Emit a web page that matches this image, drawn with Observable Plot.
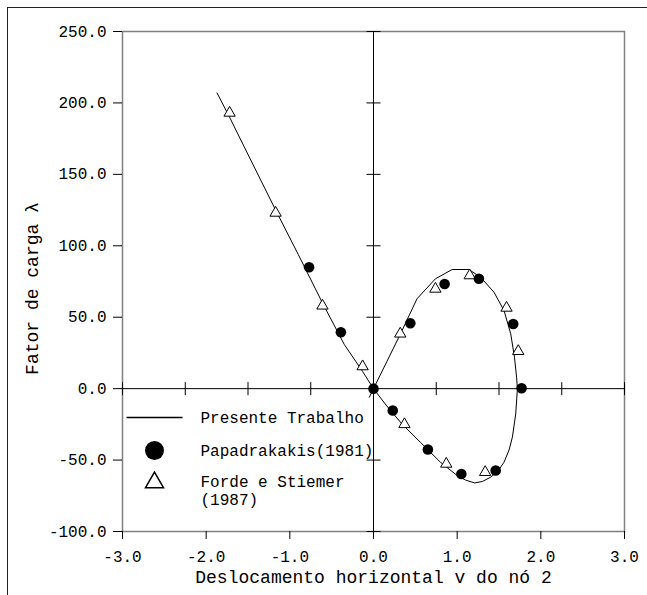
<!DOCTYPE html>
<html><head><meta charset="utf-8">
<script src="https://cdn.jsdelivr.net/npm/d3@7"></script>
<script src="https://cdn.jsdelivr.net/npm/@observablehq/plot@0.6"></script>
<style>
body{margin:0;background:#fff;}
#wrap{position:relative;width:647px;height:595px;overflow:hidden;}
#wrap svg{position:absolute;left:0;top:0;}
#border{position:absolute;left:7px;top:7px;right:-5px;bottom:-5px;border-left:1px solid #222;border-top:1.5px solid #222;pointer-events:none;}
</style></head><body><div id="wrap"><div id="border"></div></div>
<script>
// ---- data ----
const curveX = [-1.87,-1.72,-1.45,-1.17,-0.9,-0.61,-0.35,-0.13,0,0.15,0.34,0.56,0.8,1.0,1.1,1.21,1.3,1.4,1.49,1.56,1.62,1.66,1.7,1.72,1.71,1.685,1.64,1.56,1.44,1.28,1.14,0.94,0.74,0.52,0.323,0.16,0,-0.05];
const curveY = [207,190,158,125,94,60,31,12,0,-11.5,-24.7,-37.5,-51.5,-60.8,-64,-66,-65,-62,-57.5,-51.5,-43,-34,-17.7,0,8,22,38.4,54.7,67.5,78,83.4,83.4,76.9,62.9,38.4,19,0,-6];
const papX = [-0.77,-0.39,0,0.23,0.65,1.05,1.46,1.77,1.67,1.26,0.85,0.44];
const papY = [85,39.5,0,-15.3,-42.6,-59.7,-57.3,0.3,45.3,76.9,73.3,45.8];
const fsX = [-1.72,-1.17,-0.61,-0.13,0.37,0.87,1.335,1.73,1.59,1.15,0.74,0.32];
const fsY = [193,123,58,15.5,-25,-52.7,-58.5,26.2,56.5,79.2,69.8,38.4];
const xTicks = [-3,-2,-1,0,1,2,3];
const yTicks = [250,200,150,100,50,0,-50,-100];
const centerXTicks = [-3,-2.25,-1.5,-0.75,0,0.75,1.5,2.25,3];
const centerYTicks = [250,200,150,100,50,-50,-100];
const legendLabels = ["Presente Trabalho","Papadrakakis(1981)","Forde e Stiemer\n(1987)"];
const xLabel = "Deslocamento horizontal v do nó 2";
const yLabel = "Fator de carga λ";

const curve = curveX.map((x,i)=>({x, y:curveY[i]}));
const pap = papX.map((x,i)=>({x, y:papY[i]}));
const fs = fsX.map((x,i)=>({x, y:fsY[i]}));

const hline = {draw(ctx,size){const r=Math.sqrt(size/Math.PI);ctx.moveTo(-r,0);ctx.lineTo(r,0);}};
const vline = {draw(ctx,size){const r=Math.sqrt(size/Math.PI);ctx.moveTo(0,-r);ctx.lineTo(0,r);}};
const fmt = d=>d.toFixed(1);
const font = "'Liberation Mono','Courier New',monospace";

const chart = Plot.plot({
  width:647, height:595,
  marginLeft:122, marginRight:23, marginTop:31, marginBottom:64,
  x:{domain:[-3,3]}, y:{domain:[-100,250]},
  style:{fontFamily:font, fontSize:"16px", color:"#000", background:"transparent"},
  marks:[
    Plot.frame({stroke:"#808080", strokeWidth:1.5}),
    Plot.ruleX([0],{stroke:"#000", strokeWidth:1}),
    Plot.ruleY([0],{stroke:"#000", strokeWidth:1}),
    Plot.dot(centerYTicks,{x:()=>0, y:d=>d, symbol:hline, r:7, stroke:"#000", fill:"none", strokeWidth:1}),
    Plot.dot(centerXTicks,{x:d=>d, y:()=>0, symbol:vline, r:6.5, stroke:"#000", fill:"none", strokeWidth:1}),
    Plot.axisY({ticks:yTicks, tickSize:9, tickPadding:7, tickFormat:fmt, fontSize:16, label:null, stroke:"#000"}),
    Plot.axisX({ticks:xTicks, tickSize:8, tickPadding:11, tickFormat:fmt, fontSize:16, label:null, stroke:"#000"}),
    Plot.line(curve,{x:"x", y:"y", stroke:"#000", strokeWidth:1}),
    Plot.dot(fs,{x:"x", y:"y", symbol:"triangle", r:4.2, stroke:"#000", fill:"#fff", strokeWidth:1}),
    Plot.dot(pap,{x:"x", y:"y", r:5.3, fill:"#000", stroke:"none"}),
    // legend
    Plot.dot([legendLabels[0]],{frameAnchor:"top-left", dx:32, dy:386, symbol:hline, r:28, stroke:"#000", fill:"none"}),
    Plot.dot([legendLabels[1]],{frameAnchor:"top-left", dx:32, dy:419, r:9.5, fill:"#000", stroke:"none"}),
    Plot.dot([legendLabels[2]],{frameAnchor:"top-left", dx:32, dy:451, symbol:"triangle", r:6.7, stroke:"#000", fill:"#fff"}),
    Plot.text([legendLabels[0]],{frameAnchor:"top-left", text:d=>d, dx:78, dy:386, textAnchor:"start", lineAnchor:"middle", fontSize:16}),
    Plot.text([legendLabels[1]],{frameAnchor:"top-left", text:d=>d, dx:78, dy:419, textAnchor:"start", lineAnchor:"middle", fontSize:16}),
    Plot.text([legendLabels[2]],{frameAnchor:"top-left", text:d=>d, dx:78, dy:459, textAnchor:"start", lineAnchor:"middle", lineHeight:1.08, fontSize:16}),
    // titles
    Plot.text([xLabel],{frameAnchor:"bottom", text:d=>d, dy:46, textAnchor:"middle", lineAnchor:"middle", fontSize:18}),
    Plot.text([yLabel],{frameAnchor:"left", text:d=>d, dx:-90, dy:7, rotate:-90, textAnchor:"middle", lineAnchor:"middle", fontSize:18})
  ]
});
document.getElementById("wrap").prepend(chart);
</script>
</body></html>
